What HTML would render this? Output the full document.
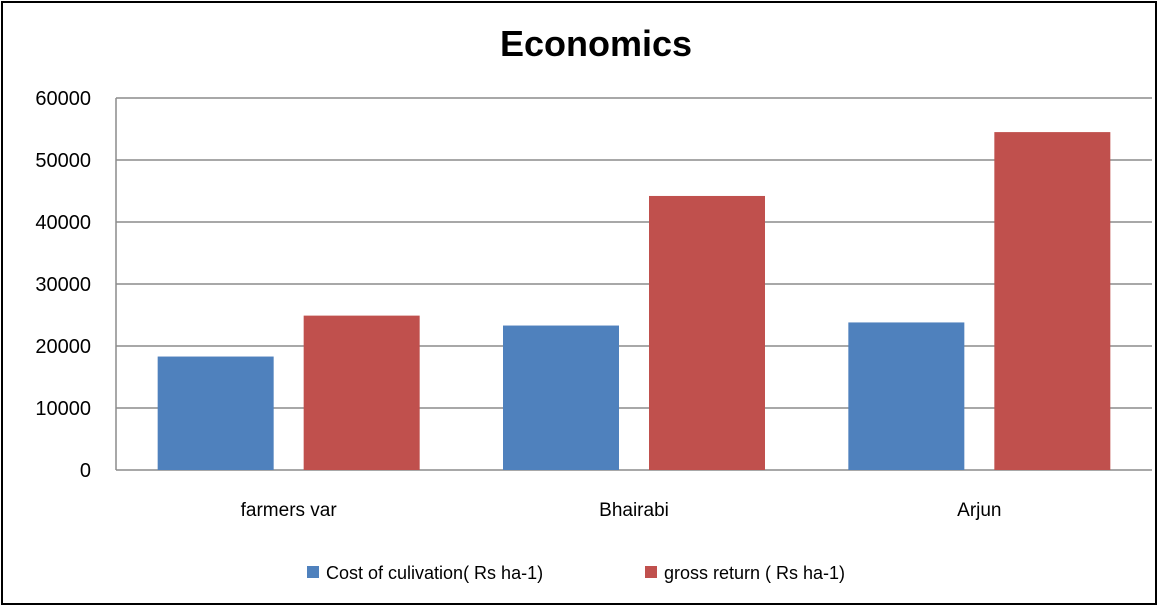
<!DOCTYPE html>
<html><head><meta charset="utf-8"><style>
body{margin:0;background:#fff}
svg{display:block;font-family:"Liberation Sans",Calibri,sans-serif}
</style></head><body>
<svg id="chart" width="1162" height="610">
<rect x="2" y="2" width="1154" height="602" fill="#fff" stroke="#000" stroke-width="2"/>
<text x="596" y="56" font-size="36" font-weight="bold" text-anchor="middle" fill="#000">Economics</text>
<g id="grid"></g><g id="bars"></g><g id="labels"></g>
<g>
<rect x="307" y="566" width="12" height="12" fill="#4f81bd"/>
<text x="326" y="579" font-size="18" fill="#000">Cost of culivation( Rs  ha-1)</text>
<rect x="645" y="566" width="12" height="12" fill="#c0504d"/>
<text x="664" y="579" font-size="18" fill="#000">gross return ( Rs  ha-1)</text>
</g>
</svg>
<script>
const categories=["farmers var","Bhairabi","Arjun"];
const costValues=[18300,23300,23800];
const grossValues=[24900,44200,54500];
const yTicks=[0,10000,20000,30000,40000,50000,60000];
const NS="http://www.w3.org/2000/svg";
const x0=116,x1=1152,y0=470,yTop=98,yMax=60000;
const yS=v=>y0-(v/yMax)*(y0-yTop);
const band=(x1-x0)/categories.length;
function mk(t,a,p){const e=document.createElementNS(NS,t);for(const k in a)e.setAttribute(k,a[k]);p.appendChild(e);return e;}
const grid=document.getElementById('grid'),bars=document.getElementById('bars'),labels=document.getElementById('labels');
yTicks.forEach(v=>{
 const l=mk('line',{x1:x0,x2:x1,y1:yS(v),y2:yS(v),stroke:'#8c8c8c','stroke-width':1.5},grid);
 
 
 const t=mk('text',{x:91,y:yS(v)+7,'font-size':20,'text-anchor':'end',fill:'#000'},labels);
 t.textContent=v;
 
 
});
const ax=mk('line',{x1:x0,x2:x0,y1:yTop,y2:y0,stroke:'#8c8c8c','stroke-width':1.5},grid);


const bw=116,gap=30;
categories.forEach((c,i)=>{
 const cx=x0+band*(i+0.5);
 const b1=mk('rect',{x:cx-gap/2-bw,y:yS(costValues[i]),width:bw,height:y0-yS(costValues[i]),fill:'#4f81bd'},bars);
 
 
 const b2=mk('rect',{x:cx+gap/2,y:yS(grossValues[i]),width:bw,height:y0-yS(grossValues[i]),fill:'#c0504d'},bars);
 
 
 const t=mk('text',{x:cx,y:516,'font-size':19,'text-anchor':'middle',fill:'#000'},labels);
 t.textContent=c;
 
 
});
</script>
</body></html>
